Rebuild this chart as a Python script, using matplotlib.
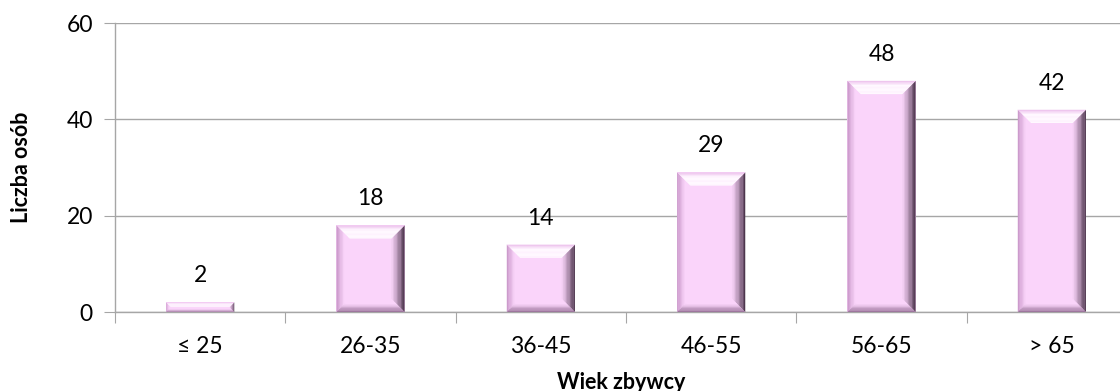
import matplotlib.pyplot as plt
import numpy as np
from matplotlib.patches import Polygon

plt.rcParams["font.family"] = ["Lato", "DejaVu Sans"]

# Data
categories = ['≤ 25', '26-35', '36-45', '46-55', '56-65', '> 65']
counts = [2, 18, 14, 29, 48, 42]
y_ticks = [0, 20, 40, 60]

face = np.array([250, 212, 250]) / 255
grid_col = '#a6a6a6'

# bevel gradients: (outer colour, inner colour)
sides = {
    'left': (np.array([200, 150, 200]) / 255, face),
    'right': (np.array([60, 38, 60]) / 255, face),
    'top': (np.array([235, 190, 235]) / 255, np.array([255, 248, 255]) / 255),
    'bottom': (np.array([150, 110, 150]) / 255, face),
}

fig = plt.figure(figsize=(11.2, 3.91), dpi=100)
ax = fig.add_axes([0.1027, 0.202, 0.9125, 0.739])

x = np.arange(len(categories))
bars = ax.bar(x, counts, width=0.4, color=face, edgecolor='none', zorder=2)

ax.set_xlim(-0.5, len(categories) - 0.5)
ax.set_ylim(0, 60)
ax.set_yticks(y_ticks)
ax.yaxis.grid(True, color=grid_col, linewidth=1.0, zorder=0)
ax.set_axisbelow(True)

# boundaries get the tick marks, centers get the labels
ax.set_xticks(np.arange(len(categories) + 1) - 0.5)
ax.set_xticklabels([])
ax.set_xticks(x, minor=True)
ax.set_xticklabels(categories, minor=True)
ax.tick_params(axis='x', which='major', length=8, color=grid_col, direction='out')
ax.tick_params(axis='x', which='minor', length=0, pad=17, labelsize=16.5)
ax.tick_params(axis='y', length=8, color=grid_col, pad=8, labelsize=16.5)

for s in ['top', 'right']:
    ax.spines[s].set_visible(False)
for s in ['left', 'bottom']:
    ax.spines[s].set_color(grid_col)
    ax.spines[s].set_linewidth(1.0)

fig.text(22 / 1120, 0.5 * (0.202 + 0.941), 'Liczba osób', rotation=90,
         fontsize=15.5, fontweight='bold', ha='center', va='center')
fig.text(0.5545, 0.022, 'Wiek zbywcy', fontsize=15.5, fontweight='bold',
         ha='center', va='center')


def band_poly(p0, p1, q0, q1, t0, t1):
    a0 = p0 + (q0 - p0) * t0
    a1 = p1 + (q1 - p1) * t0
    b1 = p1 + (q1 - p1) * t1
    b0 = p0 + (q0 - p0) * t1
    return np.array([a0, a1, b1, b0])


# bevel look, built from each bar's own extent
fig.canvas.draw()
inv = ax.transData.inverted()
nb = 10
for b in bars:
    x0, y0 = ax.transData.transform((b.get_x(), 0))
    x1, y1 = ax.transData.transform((b.get_x() + b.get_width(), b.get_height()))
    d = min(13, (y1 - y0) / 2.0)
    P = lambda u, v: np.array([u, v], dtype=float)
    edges = {
        'left': (P(x0, y0), P(x0, y1), P(x0 + d, y0 + d), P(x0 + d, y1 - d)),
        'right': (P(x1, y0), P(x1, y1), P(x1 - d, y0 + d), P(x1 - d, y1 - d)),
        'top': (P(x0, y1), P(x1, y1), P(x0 + d, y1 - d), P(x1 - d, y1 - d)),
        'bottom': (P(x0, y0), P(x1, y0), P(x0 + d, y0 + d), P(x1 - d, y0 + d)),
    }
    for k in ['left', 'right', 'top', 'bottom']:
        p0, p1, q0, q1 = edges[k]
        c_out, c_in = sides[k]
        for i in range(nb):
            t0, t1 = i / nb, (i + 1) / nb
            tm = (t0 + t1) / 2
            if k == 'top':
                w = min(1.0, tm / 0.35)
            elif k == 'right':
                w = tm ** 0.8
            else:
                w = min(1.0, tm / 0.6)
            col = c_out * (1 - w) + c_in * w
            poly = inv.transform(band_poly(p0, p1, q0, q1, t0, t1 + 0.02))
            ax.add_patch(Polygon(poly, closed=True, facecolor=col,
                                 edgecolor='none', zorder=3))
    ax.annotate(str(int(b.get_height())), (b.get_x() + b.get_width() / 2, b.get_height()),
                xytext=(0, 11.5), textcoords='offset points', ha='center', va='bottom',
                fontsize=16.5)

fig.savefig('out.png', dpi=100)
